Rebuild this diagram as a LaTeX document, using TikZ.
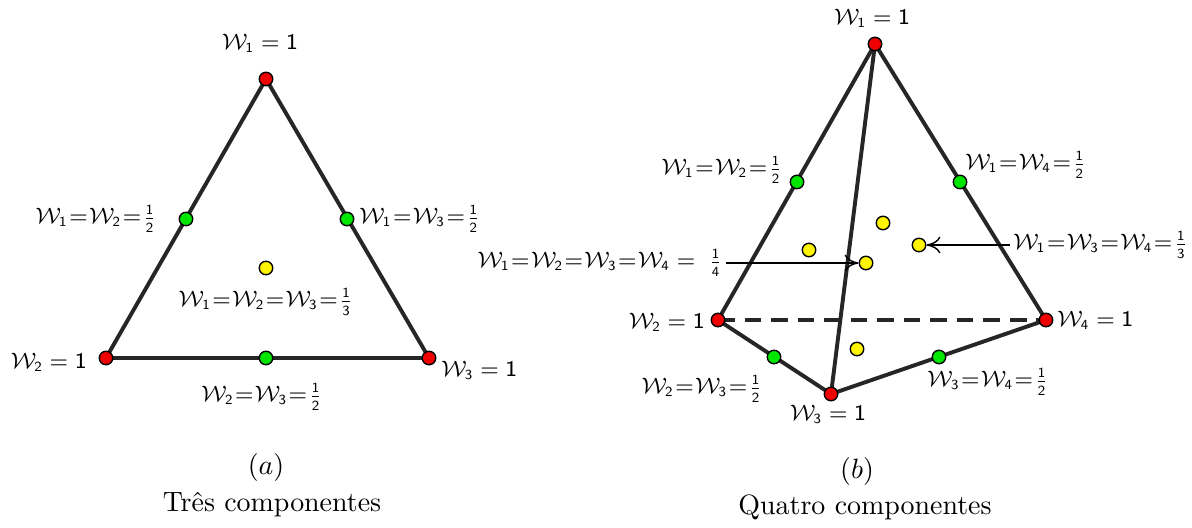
\documentclass[tikz,border=0pt]{standalone}
\usepackage{amsmath}
\usepackage{amssymb}
\usepackage{xcolor}
\usetikzlibrary{arrows.meta}
\newcommand{\wv}[1]{\mathcal{W}_{\mathsf{#1}}}
\newcommand{\hfr}[2]{\tfrac{\mathsf{#1}}{\mathsf{#2}}}
\newcommand{\weq}{\mkern4mu=\mkern4mu}
\definecolor{dotred}{RGB}{240,0,0}
\definecolor{dotgreen}{RGB}{0,230,0}
\definecolor{dotyellow}{RGB}{255,245,0}
\begin{document}
\begin{tikzpicture}[x=0.012584cm,y=-0.012584cm,
   font=\fontsize{7.6}{9}\selectfont,
   edge/.style={line width=1.4pt,draw=black!85},
   vtx/.style={circle,draw=black,fill=dotred,line width=0.5pt,
     minimum size=0.17cm,inner sep=0pt},
   mid/.style={circle,draw=black,fill=dotgreen,line width=0.5pt,
     minimum size=0.17cm,inner sep=0pt},
   ctr/.style={circle,draw=black,fill=dotyellow,line width=0.5pt,
     minimum size=0.17cm,inner sep=0pt},
   lbl/.style={inner sep=1pt,execute at begin node={\thickmuskip=1mu}},
   pt/.style={-{To[length=5pt,width=6pt]},line width=0.5pt}]
  \useasboundingbox (0,0) rectangle (1192,527);
  % (a) three components
  \coordinate (a1) at (266,79);
  \coordinate (a2) at (106,358);
  \coordinate (a3) at (429,358);
  \draw[edge] (a1) -- (a2) -- (a3) -- cycle;
  \node[vtx] (A1) at (a1) {}; \node[vtx] (A2) at (a2) {};
  \node[vtx] (A3) at (a3) {};
  \node[mid] (A12) at (186,219) {}; \node[mid] (A13) at (347,219) {};
  \node[mid] (A23) at (266,358) {};
  \node[ctr] (A123) at (266,268) {};
  \node[lbl] (la1) at (260,43) {$\wv1 \weq \mathsf{1}$};
  \node[lbl,anchor=east] (la2) at (90,362) {$\wv2 \weq \mathsf{1}$};
  \node[lbl,anchor=west] (la3) at (438,370) {$\wv3 \weq \mathsf{1}$};
  \node[lbl,anchor=east] (la12) at (160,219) {$\wv1 = \wv2 = \hfr12$};
  \node[lbl,anchor=west] (la13) at (356,219) {$\wv1 = \wv3 = \hfr12$};
  \node[lbl] (la23) at (262,397) {$\wv2 = \wv3 = \hfr12$};
  \node[lbl] (la123) at (266,302) {$\wv1 = \wv2 = \wv3 = \hfr13$};
  \node[font=\normalsize] (capa) at (266,468) {$(a)$};
  \node[font=\normalsize] (tita) at (272,505) {Três componentes};
  % (b) four components
  \coordinate (b1) at (875,44);
  \coordinate (b2) at (718,320);
  \coordinate (b3) at (831,394);
  \coordinate (b4) at (1046,320);
  \draw[edge,dash pattern=on 6pt off 3.5pt] (b2) -- (b4);
  \draw[edge] (b2) -- (b1) -- (b4) -- (b3) -- cycle;
  \draw[edge] (b1) -- (b3);
  \node[vtx] (B1) at (b1) {}; \node[vtx] (B2) at (b2) {};
  \node[vtx] (B3) at (b3) {}; \node[vtx] (B4) at (b4) {};
  \node[mid] (B12) at (797,182) {}; \node[mid] (B14) at (960,182) {};
  \node[mid] (B23) at (774,357) {}; \node[mid] (B34) at (939,357) {};
  \node[ctr] (B123) at (809,250) {}; \node[ctr] (B124) at (883,223) {};
  \node[ctr] (B1234) at (866,263) {}; \node[ctr] (B134) at (919,245) {};
  \node[ctr] (B234) at (857,349) {};
  \node[lbl] (lb1) at (872,18) {$\wv1 \weq \mathsf{1}$};
  \node[lbl,anchor=east] (lb2) at (708,322) {$\wv2 \weq \mathsf{1}$};
  \node[lbl] (lb3) at (828,414) {$\wv3 \weq \mathsf{1}$};
  \node[lbl,anchor=west] (lb4) at (1054,320) {$\wv4 \weq \mathsf{1}$};
  \node[lbl,anchor=east] (lb12) at (786,170) {$\wv1 = \wv2 = \hfr12$};
  \node[lbl,anchor=west] (lb14) at (962,165) {$\wv1 = \wv4 = \hfr12$};
  \node[lbl,anchor=east] (lb23) at (766,389) {$\wv2 = \wv3 = \hfr12$};
  \node[lbl] (lb34) at (988,382) {$\wv3 = \wv4 = \hfr12$};
  \node[lbl,anchor=east] (lb1234) at (726,263)
    {$\wv1 = \wv2 = \wv3 = \wv4 \weq \mkern5mu\hfr14$};
  \node[lbl,anchor=west] (lb134) at (1010,245) {$\wv1 = \wv3 = \wv4 = \hfr13$};
  \draw[pt] (lb1234.east) -- (B1234.west);
  \draw[pt] (lb134.west) -- (B134.east);
  \node[font=\normalsize] (capb) at (857,472) {$(b)$};
  \node[font=\normalsize] (titb) at (865,507) {Quatro componentes};
\end{tikzpicture}
\end{document}
